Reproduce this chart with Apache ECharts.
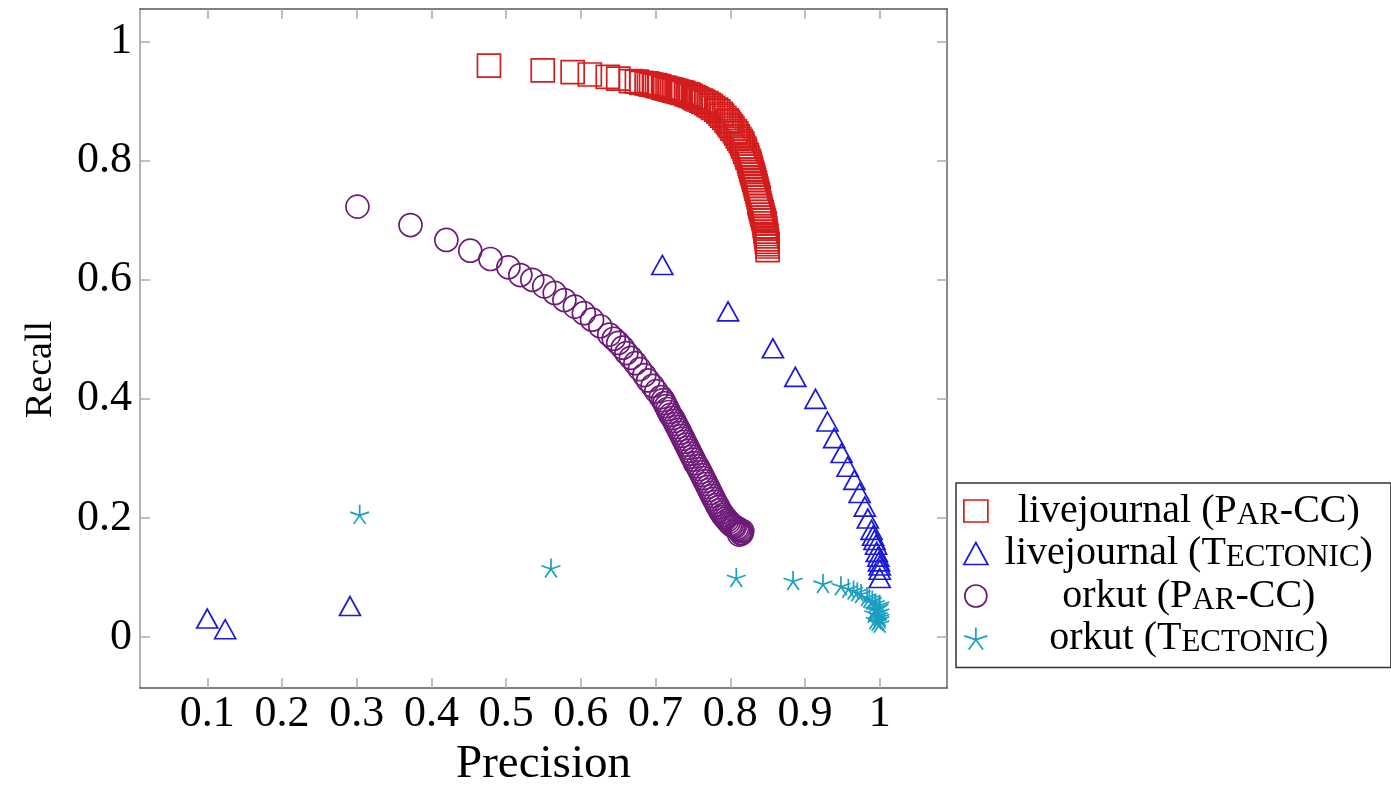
<!DOCTYPE html>
<html>
<head>
<meta charset="utf-8">
<title>Precision / Recall</title>
<script src="https://cdn.jsdelivr.net/npm/echarts@6/dist/echarts.min.js"></script>
<style>
  html, body { margin: 0; padding: 0; background: #fff; }
  #chart { width: 1391px; height: 788px; }
</style>
</head>
<body>
<div id="chart"></div>
<script>
// tick values
const xTicks = [0.1, 0.2, 0.3, 0.4, 0.5, 0.6, 0.7, 0.8, 0.9, 1];
const yTicks = [0, 0.2, 0.4, 0.6, 0.8, 1];

// series names (lowercase inside the brackets is drawn as small caps)
const names = ["livejournal (Par-CC)", "livejournal (Tectonic)", "orkut (Par-CC)", "orkut (Tectonic)"];

// [precision, recall]
const ljParcc = [
  [0.477, 0.960], [0.549, 0.952], [0.589, 0.949], [0.612, 0.945], [0.636, 0.941],
  [0.650, 0.938], [0.667, 0.934], [0.675, 0.933], [0.681, 0.931], [0.688, 0.930],
  [0.691, 0.929], [0.694, 0.928], [0.699, 0.927], [0.702, 0.926], [0.705, 0.925],
  [0.710, 0.923], [0.713, 0.922], [0.716, 0.921], [0.719, 0.920], [0.722, 0.919],
  [0.725, 0.918], [0.728, 0.917], [0.731, 0.916], [0.734, 0.915], [0.737, 0.914],
  [0.741, 0.912], [0.744, 0.911], [0.747, 0.909], [0.751, 0.907], [0.754, 0.905],
  [0.757, 0.903], [0.761, 0.901], [0.764, 0.899], [0.768, 0.897], [0.771, 0.894],
  [0.774, 0.892], [0.777, 0.889], [0.781, 0.886], [0.784, 0.883], [0.787, 0.879],
  [0.789, 0.876], [0.792, 0.872], [0.795, 0.868], [0.797, 0.865], [0.799, 0.861],
  [0.801, 0.858], [0.803, 0.854], [0.806, 0.850], [0.808, 0.846], [0.810, 0.841],
  [0.812, 0.837], [0.814, 0.833], [0.816, 0.829], [0.817, 0.824], [0.819, 0.820],
  [0.820, 0.815], [0.822, 0.810], [0.823, 0.805], [0.825, 0.800], [0.826, 0.795],
  [0.827, 0.790], [0.828, 0.785], [0.829, 0.781], [0.830, 0.777], [0.831, 0.772],
  [0.832, 0.768], [0.833, 0.763], [0.834, 0.758], [0.835, 0.753], [0.836, 0.748],
  [0.837, 0.743], [0.838, 0.738], [0.839, 0.729], [0.840, 0.724], [0.841, 0.719],
  [0.842, 0.714], [0.843, 0.709], [0.844, 0.704], [0.845, 0.700], [0.846, 0.695],
  [0.846, 0.690], [0.847, 0.686], [0.847, 0.681], [0.848, 0.677], [0.848, 0.673],
  [0.849, 0.668], [0.849, 0.664], [0.850, 0.660], [0.850, 0.656], [0.850, 0.650]
];
const ljTectonic = [
  [0.100, 0.031], [0.124, 0.013], [0.291, 0.052],
  [0.709, 0.625], [0.797, 0.547], [0.857, 0.485], [0.887, 0.437], [0.914, 0.400],
  [0.930, 0.362], [0.939, 0.334], [0.949, 0.309], [0.957, 0.286], [0.966, 0.264],
  [0.973, 0.242], [0.980, 0.219], [0.984, 0.199], [0.989, 0.180], [0.991, 0.170],
  [0.993, 0.163], [0.995, 0.155], [0.996, 0.143], [0.998, 0.135], [0.999, 0.127],
  [1.000, 0.120], [1.000, 0.113], [1.000, 0.099]
];
const orkutParcc = [
  [0.301, 0.723], [0.372, 0.692], [0.420, 0.667], [0.452, 0.649], [0.479, 0.635],
  [0.503, 0.621], [0.519, 0.608], [0.535, 0.600], [0.551, 0.589], [0.565, 0.578],
  [0.578, 0.566], [0.592, 0.555], [0.604, 0.544], [0.615, 0.533], [0.626, 0.522],
  [0.638, 0.508], [0.644, 0.501], [0.650, 0.494], [0.656, 0.486], [0.661, 0.477],
  [0.667, 0.469], [0.673, 0.460], [0.679, 0.450], [0.685, 0.440], [0.690, 0.431],
  [0.696, 0.422], [0.701, 0.413], [0.707, 0.403], [0.710, 0.398], [0.712, 0.393],
  [0.714, 0.388], [0.716, 0.383], [0.718, 0.378], [0.720, 0.373], [0.723, 0.368],
  [0.725, 0.363], [0.727, 0.358], [0.729, 0.353], [0.731, 0.348], [0.733, 0.343],
  [0.735, 0.338], [0.737, 0.333], [0.739, 0.328], [0.741, 0.323], [0.743, 0.318],
  [0.745, 0.313], [0.747, 0.308], [0.749, 0.303], [0.751, 0.298], [0.753, 0.292],
  [0.756, 0.287], [0.758, 0.282], [0.760, 0.277], [0.762, 0.272], [0.764, 0.267],
  [0.766, 0.262], [0.768, 0.257], [0.770, 0.252], [0.772, 0.247], [0.774, 0.242],
  [0.776, 0.237], [0.778, 0.232], [0.780, 0.227], [0.782, 0.222], [0.784, 0.218],
  [0.786, 0.213], [0.788, 0.209], [0.790, 0.205], [0.792, 0.202], [0.794, 0.199],
  [0.796, 0.196], [0.798, 0.193], [0.800, 0.190], [0.802, 0.188], [0.804, 0.186],
  [0.806, 0.185], [0.809, 0.183], [0.811, 0.181], [0.813, 0.179], [0.814, 0.175],
  [0.815, 0.174], [0.812, 0.172], [0.816, 0.178]
];
const orkutTectonic = [
  [0.304, 0.206], [0.560, 0.116], [0.808, 0.100], [0.884, 0.095], [0.924, 0.090],
  [0.948, 0.086], [0.958, 0.082], [0.965, 0.079], [0.970, 0.076], [0.975, 0.073],
  [0.983, 0.068], [0.986, 0.065], [0.990, 0.062], [0.994, 0.057], [1.000, 0.055],
  [0.999, 0.051], [0.996, 0.048], [0.993, 0.046], [1.000, 0.043], [0.992, 0.040],
  [0.998, 0.037], [1.000, 0.034], [1.000, 0.030], [0.994, 0.029], [0.997, 0.026],
  [1.000, 0.023]
];

const serif = "Liberation Serif";
const starPath = "path://M0,-10L0,0M9.51,-3.09L0,0M5.88,8.09L0,0M-5.88,8.09L0,0M-9.51,-3.09L0,0";

// legend label -> rich text, lowercase in brackets becomes small caps
const toRich = name => {
  const open = name.indexOf("(");
  let out = "{n|" + name.slice(0, open + 1) + "}";
  const inner = name.slice(open + 1, name.length - 1);
  const parts = inner.match(/[a-z]+|[^a-z]+/g);
  parts.forEach(p => {
    if (/[a-z]/.test(p)) out += "{s|" + p.toUpperCase() + "}";
    else out += "{n|" + p + "}";
  });
  return out + "{n|)}";
};

const scatter = (name, data, symbol, size, color) => ({
  name: name,
  type: "scatter",
  data: data,
  symbol: symbol,
  symbolSize: size,
  itemStyle: { color: "rgba(0,0,0,0)", borderColor: color, borderWidth: 1.7, opacity: 1 },
  emphasis: { disabled: true },
});

var myChart = echarts.init(document.getElementById("chart"), null, { renderer: "canvas" });

var option = {
  animation: false,
  grid: { left: 140, right: 444, top: 9, bottom: 100, outerBoundsMode: "none", containLabel: false },
  legend: {
    orient: "vertical",
    left: 956,
    top: 483,
    padding: [8, 18, 9, 7],
    itemGap: 2.5,
    itemWidth: 24,
    itemHeight: 22,
    borderColor: "#333",
    borderWidth: 1.5,
    selectedMode: false,
    data: names,
    itemStyle: { borderWidth: 1.7 },
    formatter: toRich,
    textStyle: {
      width: 392,
      color: "#000",
      fontFamily: serif,
      rich: {
        n: { fontSize: 40, lineHeight: 40, fontFamily: serif, color: "#000", align: "center", verticalAlign: "bottom" },
        s: { fontSize: 31, lineHeight: 36, fontFamily: serif, color: "#000", align: "center", verticalAlign: "bottom" },
      },
    },
  },
  xAxis: [
    {
      type: "value",
      min: 0.01,
      max: 1.09,
      name: "Precision",
      nameLocation: "middle",
      nameGap: 52,
      nameTextStyle: { fontFamily: serif, fontSize: 47, color: "#000" },
      splitLine: { show: false },
      axisLine: { show: true, onZero: false, lineStyle: { color: "#555", width: 1.5 } },
      axisTick: { inside: true, length: 10, customValues: xTicks, lineStyle: { color: "#aaa", width: 1.5 } },
      axisLabel: { customValues: xTicks, margin: 4, fontFamily: serif, fontSize: 44, color: "#000", formatter: v => String(v) },
    },
    {
      type: "value",
      position: "top",
      min: 0.01,
      max: 1.09,
      splitLine: { show: false },
      axisLine: { show: true, onZero: false, lineStyle: { color: "#555", width: 1.5 } },
      axisTick: { inside: true, length: 10, customValues: xTicks, lineStyle: { color: "#aaa", width: 1.5 } },
      axisLabel: { show: false },
    },
  ],
  yAxis: [
    {
      type: "value",
      min: -0.0857,
      max: 1.055,
      name: "Recall",
      nameLocation: "middle",
      nameGap: 80,
      nameTextStyle: { fontFamily: serif, fontSize: 38, color: "#000", padding: [0, 42, 0, 0] },
      splitLine: { show: false },
      axisLine: { show: true, onZero: false, lineStyle: { color: "#999", width: 1.5 } },
      axisTick: { inside: true, length: 10, customValues: yTicks, lineStyle: { color: "#aaa", width: 1.5 } },
      axisLabel: { customValues: yTicks, margin: 8, fontFamily: serif, fontSize: 44, color: "#000", formatter: v => String(v) },
    },
    {
      type: "value",
      position: "right",
      min: -0.0857,
      max: 1.055,
      splitLine: { show: false },
      axisLine: { show: true, onZero: false, lineStyle: { color: "#666", width: 1.5 } },
      axisTick: { inside: true, length: 10, customValues: yTicks, lineStyle: { color: "#aaa", width: 1.5 } },
      axisLabel: { show: false },
    },
  ],
  series: [
    scatter(names[0], ljParcc, "rect", 23, "#d41c1c"),
    scatter(names[1], ljTectonic, "triangle", [21, 19], "#1a1ad8"),
    scatter(names[2], orkutParcc, "circle", 23, "#6e1a78"),
    scatter(names[3], orkutTectonic, starPath, 19, "#1a9fc0"),
  ],
};

option && myChart.setOption(option);
</script>
</body>
</html>
